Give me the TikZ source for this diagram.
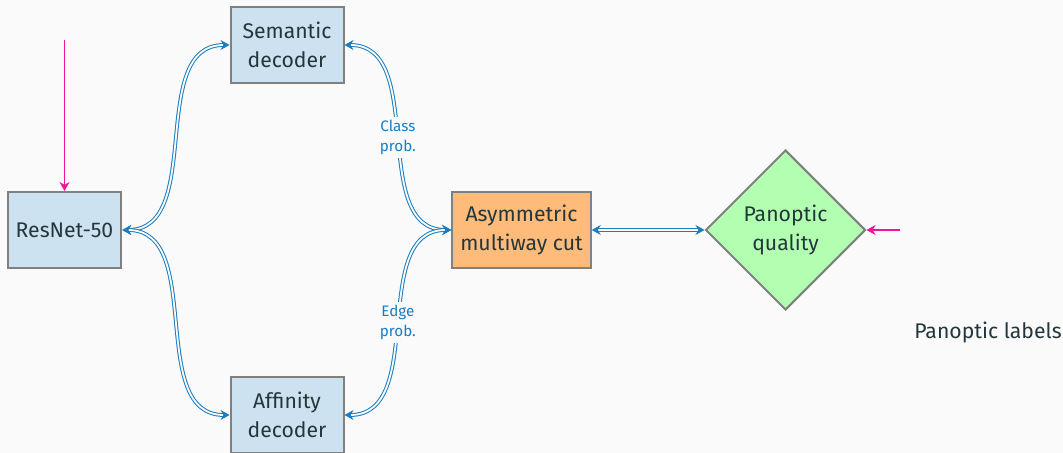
\documentclass[tikz,border=0pt]{standalone}
\usepackage{fontspec}
\setmainfont{Fira Sans}
\setsansfont{Fira Sans}
\usetikzlibrary{arrows.meta,positioning,shapes.geometric}
\definecolor{bgcol}{HTML}{FAFAFA}
\definecolor{txtcol}{HTML}{23373B}
\definecolor{boxblue}{HTML}{CCE2F0}
\definecolor{boxorange}{HTML}{FFBB7A}
\definecolor{boxgreen}{HTML}{B2FFB2}
\definecolor{linkblue}{HTML}{1A7DC0}
\definecolor{inpink}{HTML}{F0149A}

\begin{document}
\begin{tikzpicture}[>={Stealth[length=4.5pt,width=5pt]},node distance=3cm,
  font=\sffamily\fontsize{10.6}{14.5}\selectfont,text=txtcol,
  block/.style={rectangle,draw=gray,line width=1pt,fill=boxblue,align=center,
    minimum width=56.5pt,minimum height=38pt,inner sep=4pt},
  test/.style={diamond,draw=gray,line width=1pt,fill=boxgreen,align=center,
    minimum size=80pt,inner sep=0pt},
  link/.style={<->,draw=linkblue,double=bgcol,double distance=0.9pt,line width=0.5pt},
  feed/.style={->,draw=inpink,line width=0.6pt},
  tag/.style={fill=bgcol,text=linkblue,font=\sffamily\fontsize{7.6}{10}\selectfont,
    align=center,inner sep=1.5pt}]

  \useasboundingbox[fill=bgcol] (-32.25pt,-111.5pt) rectangle (499.25pt,115pt);

  \node[block] (res) {ResNet-50};
  \node[block] (sem) [above of=res, node distance=92.5pt, xshift=111.25pt] {Semantic\\decoder};
  \node[block] (aff) [below of=res, node distance=92.5pt, xshift=111.25pt] {Affinity\\decoder};
  \node[block, fill=boxorange] (cut) [right of=res, node distance=228.5pt] {Asymmetric\\multiway cut};
  \node[test] (pq) [right of=cut, node distance=132pt] {Panoptic\\quality};
  \node (gt) [right of=res, node distance=461.75pt, yshift=-51pt] {Panoptic labels};

  \node[coordinate] (img) [above of=res, node distance=95pt] {};
  \node[coordinate] (lab) [right of=res, node distance=417.75pt] {};

  \draw[link] (res.east) to[out=0,in=180] (sem.west);
  \draw[link] (res.east) to[out=0,in=180] (aff.west);
  \draw[link] (sem.east) to[out=0,in=180] node[tag,midway] {Class\\prob.} (cut.west);
  \draw[link] (aff.east) to[out=0,in=180] node[tag,midway] {Edge\\prob.} (cut.west);
  \draw[link] (cut) -- (pq);

  \draw[feed] (img) -- (res);
  \draw[feed] (lab) -- (pq);
\end{tikzpicture}
\end{document}
